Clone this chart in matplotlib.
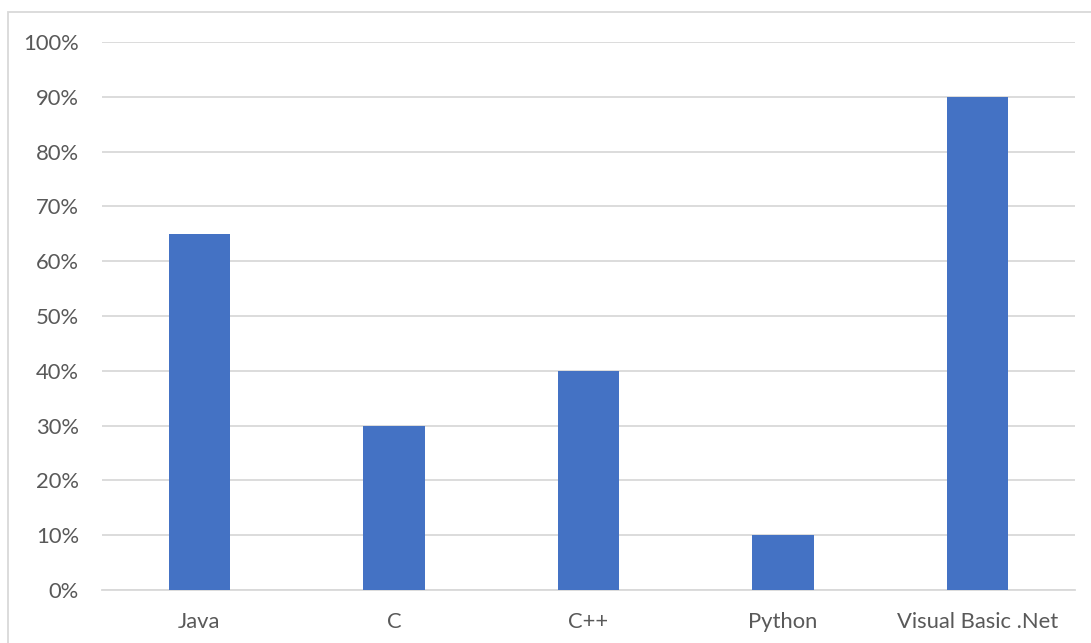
import matplotlib.pyplot as plt
from matplotlib.ticker import PercentFormatter
from matplotlib.patches import Rectangle

languages = ["Java", "C", "C++", "Python", "Visual Basic .Net"]
shares = [0.65, 0.30, 0.40, 0.10, 0.90]

plt.rcParams['font.family'] = ['Lato', 'DejaVu Sans']

fig = plt.figure(figsize=(10.91, 6.43), dpi=100)
W, H = 1091, 643
ax = fig.add_axes([102 / W, 1 - 590 / H, (1075 - 102) / W, (590 - 42) / H])

x = range(len(languages))
ax.bar(x, shares, width=0.315, color='#4472C4', zorder=3)

ax.set_xlim(-0.5, len(languages) - 0.5)
ax.set_ylim(0, 1.0)
ax.set_yticks([i / 10 for i in range(11)])
ax.yaxis.set_major_formatter(PercentFormatter(1.0, decimals=0))
ax.set_xticks(list(x))
ax.set_xticklabels(languages)

ax.grid(axis='y', color='#d9d9d9', linewidth=1.3, zorder=0)
for s in ['top', 'right', 'left']:
    ax.spines[s].set_visible(False)
ax.spines['bottom'].set_color('#d9d9d9')
ax.spines['bottom'].set_linewidth(1.3)
ax.tick_params(axis='both', length=0, labelsize=15.8, colors='#595959')
ax.tick_params(axis='y', pad=16.5)
ax.tick_params(axis='x', pad=15.5)

# outer chart border
fig.patches.append(Rectangle((8 / W, -0.01), 1.2, 1 - 12 / H + 0.01,
                             transform=fig.transFigure, fill=False,
                             edgecolor='#d9d9d9', linewidth=1.3))

fig.savefig('out.png', dpi=100)
